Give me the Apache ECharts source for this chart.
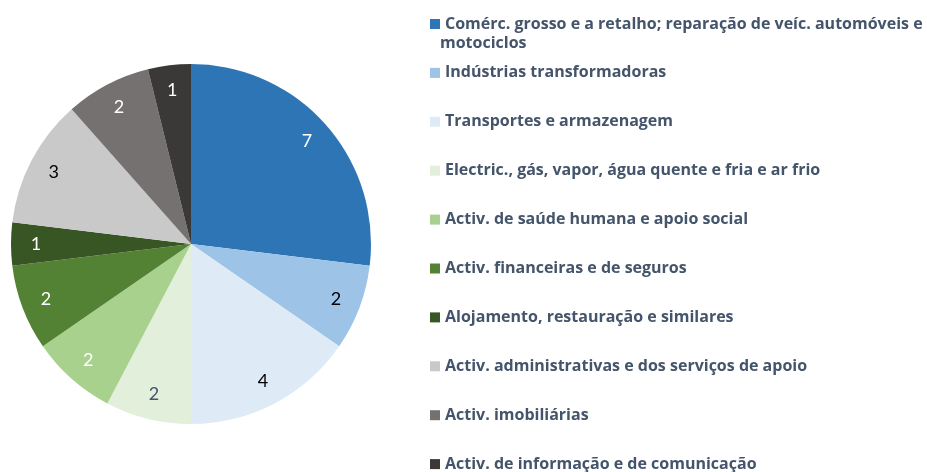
<!DOCTYPE html>
<html>
<head>
<meta charset="utf-8">
<script src="https://cdn.jsdelivr.net/npm/echarts@6/dist/echarts.min.js"></script>
<style>
  html, body { margin: 0; padding: 0; background: #fff; }
  #main { width: 927px; height: 472px; }
</style>
</head>
<body>
<div id="main"></div>
<script>
var categories = [
    'Comérc. grosso e a retalho; reparação de veíc. automóveis e motociclos',
    'Indústrias transformadoras',
    'Transportes e armazenagem',
    'Electric., gás, vapor, água quente e fria e ar frio',
    'Activ. de saúde humana e apoio social',
    'Activ. financeiras e de seguros',
    'Alojamento, restauração e similares',
    'Activ. administrativas e dos serviços de apoio',
    'Activ. imobiliárias',
    'Activ. de informação e de comunicação'
];
var values = [7, 2, 4, 2, 2, 2, 1, 3, 2, 1];
var colors = ['#2E75B6', '#9DC3E6', '#DEEBF7', '#E2EFDA', '#A9D18E',
              '#548235', '#375623', '#C9C9C9', '#767171', '#3B3838'];
var labelColors = ['#fff', '#000', '#000', '#44546A', '#fff',
                   '#fff', '#fff', '#000', '#fff', '#fff'];

var myChart = echarts.init(document.getElementById('main'));

var sliceData = [], labelData = [];
for (var i = 0; i < values.length; i++) {
    sliceData.push({ name: categories[i], value: values[i], itemStyle: { color: colors[i] } });
    labelData.push({ name: categories[i], value: values[i], label: { color: labelColors[i] } });
}

var option = {
    backgroundColor: '#fff',
    animation: false,
    legend: {
        orient: 'vertical',
        left: 425,
        top: 9,
        height: 470,
        itemWidth: 10,
        itemHeight: 10,
        itemGap: 28.9,
        icon: 'rect',
        data: categories,
        formatter: function(name) {
            // primeira entrada quebra em duas linhas, a segunda vai num graphic
            if (name === categories[0]) return 'Comérc. grosso e a retalho; reparação de veíc. automóveis e';
            return name;
        },
        textStyle: {
            fontFamily: 'Open Sans',
            fontWeight: 'bold',
            fontSize: 16,
            color: '#44546A',
            lineHeight: 20
        }
    },
    graphic: [{
        type: 'text',
        left: 440,
        top: 35,
        style: {
            text: 'motociclos',
            fontFamily: 'Open Sans',
            fontWeight: 'bold',
            fontSize: 16,
            fill: '#44546A'
        }
    }],
    series: [
        {
            type: 'pie',
            center: [191, 244],
            radius: [0, 180],
            startAngle: 90,
            label: { show: false },
            labelLine: { show: false },
            data: sliceData
        },
        {
            // serie só para as etiquetas
            type: 'pie',
            center: [191, 244],
            radius: [124, 180],
            startAngle: 90,
            silent: true,
            itemStyle: { color: 'rgba(0,0,0,0)' },
            label: {
                show: true,
                position: 'inside',
                fontFamily: 'Lato',
                fontSize: 18,
                formatter: '{c}'
            },
            labelLine: { show: false },
            data: labelData
        }
    ]
};
myChart.setOption(option);
</script>
</body>
</html>
